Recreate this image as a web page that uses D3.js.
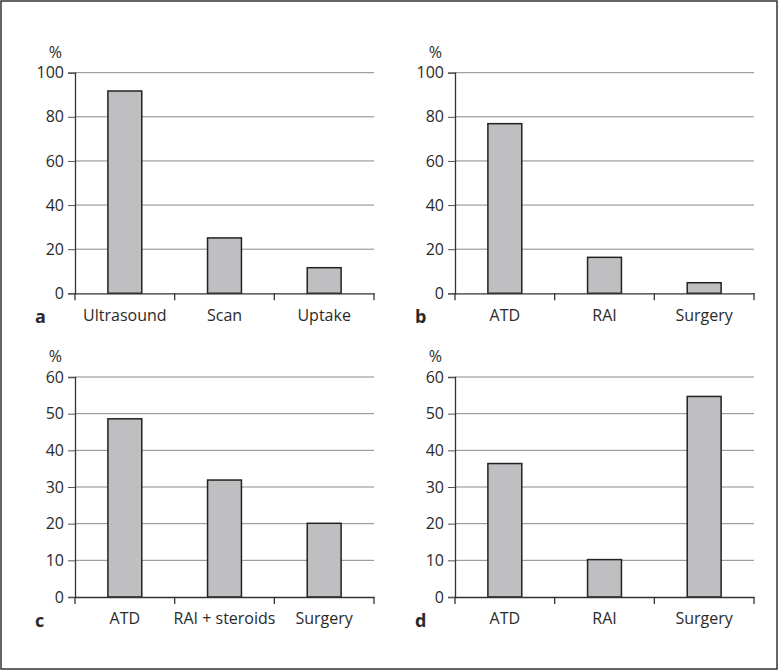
<!DOCTYPE html>
<html><head><meta charset="utf-8">
<script src="https://cdn.jsdelivr.net/npm/d3@7"></script>
<style>body{margin:0;background:#fff}svg{display:block}text{font-family:"Open Sans","Noto Sans",sans-serif;fill:#2a2a2a}</style>
</head><body><svg id="c" width="778" height="670"></svg>
<script>
const panelLetters = ["a","b","c","d"];
const catsA = ["Ultrasound","Scan","Uptake"];
const valsA = [91.7, 25.1, 11.6];
const catsB = ["ATD","RAI","Surgery"];
const valsB = [76.9, 16.3, 4.8];
const catsC = ["ATD","RAI + steroids","Surgery"];
const valsC = [48.6, 31.9, 20.1];
const catsD = ["ATD","RAI","Surgery"];
const valsD = [36.4, 10.2, 54.7];
const ticksTop = [0,20,40,60,80,100];
const ticksBottom = [0,10,20,30,40,50,60];
const yUnit = "%";

const FONT = '"Open Sans","Noto Sans",sans-serif';
const svg = d3.select("#c");
svg.append("rect").attr("x",1).attr("y",1).attr("width",776).attr("height",668)
  .attr("fill","none").attr("stroke","#333").attr("stroke-width",1.5);

const panels = [
  {letter:panelLetters[0], cats:catsA, vals:valsA, ticks:ticksTop, x0:75, x1:374, y0:72.7, y1:293.3},
  {letter:panelLetters[1], cats:catsB, vals:valsB, ticks:ticksTop, x0:455, x1:754, y0:72.7, y1:293.3},
  {letter:panelLetters[2], cats:catsC, vals:valsC, ticks:ticksBottom, x0:75, x1:374, y0:377, y1:597},
  {letter:panelLetters[3], cats:catsD, vals:valsD, ticks:ticksBottom, x0:455, x1:754, y0:377, y1:597}
];

panels.forEach(p => {
  const g = svg.append("g");
  const x = d3.scaleBand().domain(p.cats).range([p.x0, p.x1]).paddingInner(0.66).paddingOuter(0.33);
  const y = d3.scaleLinear().domain([0, d3.max(p.ticks)]).range([p.y1, p.y0]);
  g.selectAll("line.grid").data(p.ticks.filter(t=>t>0)).join("line")
    .attr("x1",p.x0).attr("x2",p.x1).attr("y1",d=>y(d)).attr("y2",d=>y(d))
    .attr("stroke","#8a8a8a").attr("stroke-width",1);
  const ya = g.append("g").attr("transform",`translate(${p.x0},0)`)
    .call(d3.axisLeft(y).tickValues(p.ticks).tickSize(7).tickPadding(4));
  ya.select(".domain").attr("stroke","#333").attr("stroke-width",1.3);
  ya.selectAll(".tick line").attr("stroke","#555");
  ya.selectAll(".tick text").style("font-size","16px").attr("fill","#2a2a2a").style("font-family",FONT);
  g.selectAll("rect.bar").data(p.vals).join("rect")
    .attr("x",(d,i)=>x(p.cats[i])).attr("width",x.bandwidth())
    .attr("y",d=>y(d)).attr("height",d=>p.y1-y(d))
    .attr("fill","#bfbfc2").attr("stroke","#222").attr("stroke-width",1.5);
  const xStep = (p.x1-p.x0)/p.cats.length;
  const xa = g.append("g").attr("transform",`translate(0,${p.y1})`)
    .call(d3.axisBottom(x).tickSize(0).tickPadding(16));
  xa.select(".domain").attr("stroke","#333").attr("stroke-width",1.3);
  xa.selectAll(".tick text").style("font-size","16px").attr("fill","#2a2a2a").style("font-family",FONT);
  g.selectAll("line.xt").data(d3.range(p.cats.length+1)).join("line")
    .attr("x1",i=>p.x0+i*xStep).attr("x2",i=>p.x0+i*xStep)
    .attr("y1",p.y1).attr("y2",p.y1+7).attr("stroke","#333").attr("stroke-width",1.3);
  g.append("text").attr("x",p.x0-13).attr("y",p.y0-15).attr("text-anchor","end")
    .style("font-size","16px").text(yUnit);
  g.append("text").attr("x",p.x0-40).attr("y",p.y1+30)
    .style("font-size","18px").style("font-weight","bold").text(p.letter);
});
</script></body></html>
